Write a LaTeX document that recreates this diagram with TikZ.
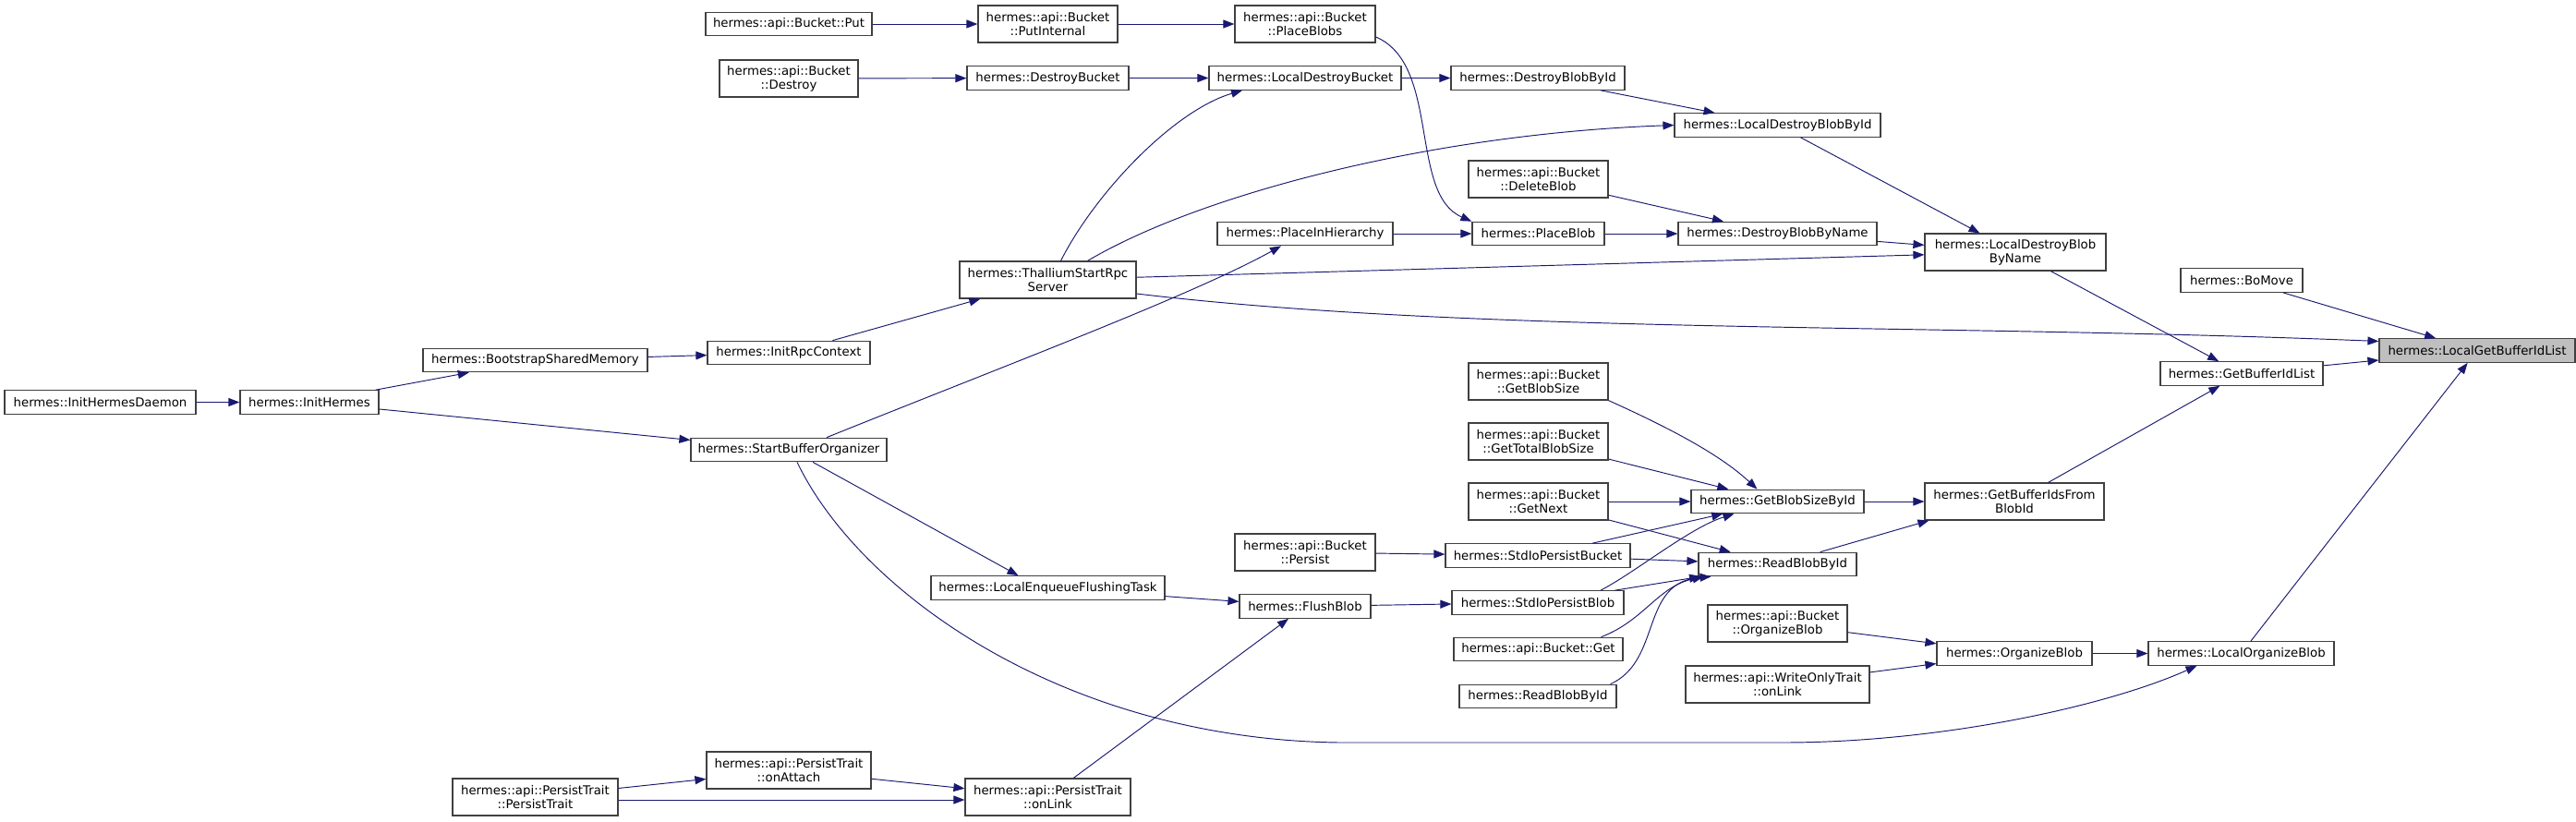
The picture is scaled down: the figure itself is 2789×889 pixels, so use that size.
\documentclass[tikz,border=0pt]{standalone}
\usepackage{fontspec}
\setmainfont{DejaVu Sans}
\usetikzlibrary{arrows.meta}
\definecolor{edgeblue}{RGB}{25,25,112}
\definecolor{boxgray}{RGB}{64,64,64}

\begin{document}
\begin{tikzpicture}[x=1pt, y=-1pt,
	fn/.style={draw=boxgray, line width=1.2pt, fill=white, inner sep=0pt, align=center, minimum height=25.5pt, font=\fontsize{13.3}{15}\selectfont},
	fn2/.style={fn, minimum height=40pt},
	root/.style={fn, fill=black!25},
	call/.style={draw=edgeblue, line width=0.95pt, -{Triangle[length=12pt, width=9pt]}}]
	\useasboundingbox (0,0) rectangle (2789,889);

\node[fn, minimum width=207pt] (daemon) at (108.5,435.5) {hermes::InitHermesDaemon};
\node[fn, minimum width=150pt] (inith) at (335,435.5) {hermes::InitHermes};
\node[fn, minimum width=243pt] (bootstrap) at (579.5,390) {hermes::BootstrapSharedMemory};
\node[fn, minimum width=176pt] (rpcctx) at (854,382) {hermes::InitRpcContext};
\node[fn2, minimum width=191pt] (thallium) at (1134.5,303) {hermes::ThalliumStartRpc\\Server};
\node[fn, minimum width=212pt] (startbo) at (854,487) {hermes::StartBufferOrganizer};
\node[fn, minimum width=180pt] (put) at (854,26) {hermes::api::Bucket::Put};
\node[fn2, minimum width=151pt] (putint) at (1134.5,26) {hermes::api::Bucket\\::PutInternal};
\node[fn2, minimum width=150pt] (bdestroy) at (854,85) {hermes::api::Bucket\\::Destroy};
\node[fn, minimum width=175pt] (destroybucket) at (1134.5,84.5) {hermes::DestroyBucket};
\node[fn2, minimum width=152pt] (placeblobs) at (1413,26) {hermes::api::Bucket\\::PlaceBlobs};
\node[fn, minimum width=208pt] (ldestroybucket) at (1413,84.5) {hermes::LocalDestroyBucket};
\node[fn, minimum width=190pt] (pih) at (1413,253) {hermes::PlaceInHierarchy};
\node[fn, minimum width=253pt] (lenqueue) at (1134.5,636.5) {hermes::LocalEnqueueFlushingTask};
\node[fn, minimum width=142pt] (flushblob) at (1413,656.5) {hermes::FlushBlob};
\node[fn2, minimum width=152pt] (persist) at (1413,598) {hermes::api::Bucket\\::Persist};
\node[fn2, minimum width=179pt] (ptrait) at (579.5,863) {hermes::api::PersistTrait\\::PersistTrait};
\node[fn2, minimum width=178pt] (onattach) at (854,834) {hermes::api::PersistTrait\\::onAttach};
\node[fn2, minimum width=179pt] (onlink) at (1134.5,863) {hermes::api::PersistTrait\\::onLink};
\node[fn, minimum width=188pt] (destroyblobid) at (1665,84.5) {hermes::DestroyBlobById};
\node[fn2, minimum width=151pt] (deleteblob) at (1665.5,194) {hermes::api::Bucket\\::DeleteBlob};
\node[fn, minimum width=143pt] (placeblob) at (1665.5,253) {hermes::PlaceBlob};
\node[fn2, minimum width=151pt] (getblobsize) at (1665.5,413) {hermes::api::Bucket\\::GetBlobSize};
\node[fn2, minimum width=151pt] (gettotal) at (1665.5,478) {hermes::api::Bucket\\::GetTotalBlobSize};
\node[fn2, minimum width=151pt] (getnext) at (1665.5,543) {hermes::api::Bucket\\::GetNext};
\node[fn, minimum width=200pt] (stdiobucket) at (1665,601.5) {hermes::StdIoPersistBucket};
\node[fn, minimum width=186pt] (stdioblob) at (1665,652.5) {hermes::StdIoPersistBlob};
\node[fn, minimum width=183pt] (bget) at (1665.5,703) {hermes::api::Bucket::Get};
\node[fn, minimum width=170pt] (readleft) at (1665,754) {hermes::ReadBlobById};
\node[fn, minimum width=223pt] (ldestroyblobid) at (1924.5,135.5) {hermes::LocalDestroyBlobById};
\node[fn, minimum width=215pt] (destroyblobname) at (1924.5,253) {hermes::DestroyBlobByName};
\node[fn, minimum width=187pt] (getblobsizeid) at (1924.5,543) {hermes::GetBlobSizeById};
\node[fn, minimum width=171pt] (readright) at (1924.5,611) {hermes::ReadBlobById};
\node[fn2, minimum width=151pt] (borganize) at (1924.5,675) {hermes::api::Bucket\\::OrganizeBlob};
\node[fn2, minimum width=199pt] (wotrait) at (1924.5,741) {hermes::api::WriteOnlyTrait\\::onLink};
\node[fn2, minimum width=196pt] (ldbbn) at (2182,273) {hermes::LocalDestroyBlob\\ByName};
\node[fn2, minimum width=194pt] (gbifb) at (2181,543) {hermes::GetBufferIdsFrom\\BlobId};
\node[fn, minimum width=168pt] (organize) at (2181,707.5) {hermes::OrganizeBlob};
\node[fn, minimum width=132pt] (bomove) at (2427,303.5) {hermes::BoMove};
\node[fn, minimum width=176pt] (getbil) at (2427,404.5) {hermes::GetBufferIdList};
\node[fn, minimum width=201pt] (lorganize) at (2426.5,707.5) {hermes::LocalOrganizeBlob};
\node[root, minimum width=212pt] (target) at (2682,379.5) {hermes::LocalGetBufferIdList};

\coordinate (bendA) at (1450,804);
\coordinate (bendB) at (1930,804);

\draw[call] (daemon) -- (inith);
\draw[call] (inith) -- (bootstrap);
\draw[call] (inith) -- (startbo);
\draw[call] (bootstrap) -- (rpcctx);
\draw[call] (rpcctx) -- (thallium);
\draw[call] ([xshift=14pt]thallium.north) .. controls (1185,210) and (1270,120) .. ([xshift=-68pt]ldestroybucket.south);
\draw[call] ([xshift=43pt]thallium.north) .. controls (1300,210) and (1550,145) .. (ldestroyblobid.west);
\draw[call] (thallium) -- (ldbbn);
\draw[call] ([yshift=-15pt]thallium.east) .. controls (1600,362) and (2100,350) .. ([yshift=10pt]target.west);
\draw[call] ([xshift=41pt]startbo.north) .. controls (1090,395) and (1290,320) .. ([xshift=-26pt]pih.south);
\draw[call] ([xshift=26pt]startbo.south) -- ([xshift=-32pt]lenqueue.north);
\draw[call] ([xshift=9pt]startbo.south) .. controls (930,640) and (1150,800) .. (bendA) -- (bendB) .. controls (2100,804) and (2280,765) .. ([xshift=-48pt]lorganize.south);
\draw[call] (lenqueue) -- (flushblob);
\draw[call] (flushblob) -- (stdioblob);
\draw[call] (onlink) -- (flushblob);
\draw[call] (ptrait) -- (onattach);
\draw[call] ([yshift=-3pt]ptrait.east) -- ([yshift=-3pt]onlink.west);
\draw[call] (onattach) -- (onlink);

\draw[call] (put) -- (putint);
\draw[call] (putint) -- (placeblobs);
\draw[call] ([yshift=-14pt]placeblobs.east) .. controls (1560,70) and (1525,210) .. (placeblob.north west);
\draw[call] (bdestroy) -- (destroybucket);
\draw[call] (destroybucket) -- (ldestroybucket);
\draw[call] (ldestroybucket) -- (destroyblobid);
\draw[call] (destroyblobid) -- (ldestroyblobid);
\draw[call] (ldestroyblobid) -- (ldbbn);
\draw[call] (deleteblob) -- (destroyblobname);
\draw[call] (pih) -- (placeblob);
\draw[call] (placeblob) -- (destroyblobname);
\draw[call] (destroyblobname) -- (ldbbn);
\draw[call] (ldbbn) -- (getbil);
\draw[call] (bomove) -- (target);
\draw[call] (getbil) -- (target);
\draw[call] (gbifb) -- (getbil);
\draw[call] (lorganize) -- (target);

\draw[call] (getblobsize.south east) .. controls (1800,460) and (1860,490) .. ([xshift=-22pt]getblobsizeid.north);
\draw[call] (gettotal) -- (getblobsizeid);
\draw[call] (getnext) -- (getblobsizeid);
\draw[call] (getnext) -- (readright);
\draw[call] (stdiobucket) -- (getblobsizeid);
\draw[call] (stdiobucket) -- (readright);
\draw[call] ([xshift=68pt]stdioblob.north) .. controls (1770,620) and (1830,571) .. ([xshift=-47pt]getblobsizeid.south);
\draw[call] (stdioblob) -- (readright);
\draw[call] ([xshift=68pt]bget.north) .. controls (1780,672) and (1795,635) .. ([xshift=-80pt]readright.south);
\draw[call] ([xshift=-7pt]readleft.north east) .. controls (1800,715) and (1775,630) .. ([xshift=-72pt]readright.south);
\draw[call] (persist) -- (stdiobucket);
\draw[call] (readright) -- ([xshift=5pt]gbifb.south west);
\draw[call] (getblobsizeid) -- (gbifb);
\draw[call] (borganize) -- (organize);
\draw[call] (wotrait) -- (organize);
\draw[call] (organize) -- (lorganize);

\end{tikzpicture}
\end{document}
